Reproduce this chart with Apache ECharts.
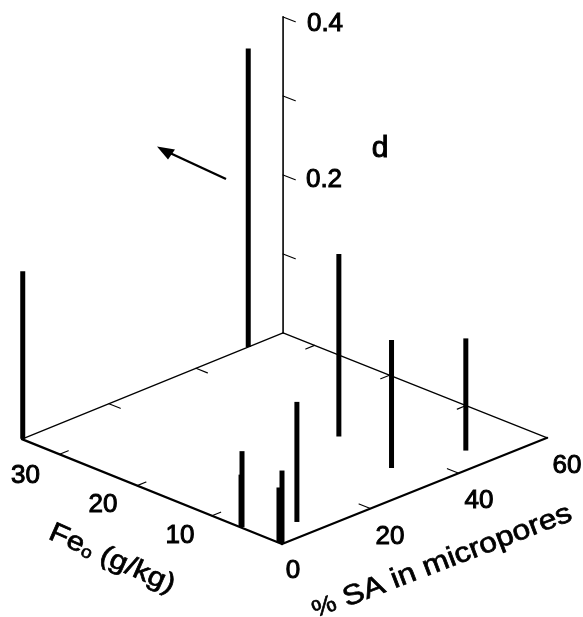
<!DOCTYPE html>
<html>
<head>
<meta charset="utf-8">
<style>html,body{margin:0;padding:0;background:#fff}#c{width:583px;height:617px}</style>
<script src="https://cdn.jsdelivr.net/npm/echarts@6/dist/echarts.min.js"></script>
</head>
<body>
<div id="c"></div>
<script>
// ---- data ----
var stemFe = [34.5, 34.5, 13.9, 5.3, 3.25, 2.65, 5.45, 5.55, 0, 0.4];
var stemSA = [0.2, 52, 36.8, 33.9, 47.2, 7.9, 0.25, 0.2, 0, 0];
var stemD  = [0.212, 0.378, 0.231, 0.162, 0.142, 0.152, 0.096, 0.066, 0.093, 0.07];
var feTicksFront = [9.3, 19.2, 29.5];
var feTicksBack = [10.6, 20.6, 30.4];
var saTicks = [20, 40];
var dTicks = [0.1, 0.2, 0.3, 0.4];
var feLabels = ['30', '20', '10'];
var saLabels = ['0', '20', '40', '60'];
var dLabels = ['0.4', '0.2'];
var feMax = 34.5, saMax = 60;

// ---- oblique projection of (Fe, SA, d) onto the plotting plane ----
var O = [282, 544];
var U = [-7.54, -3.04];
var V = [4.42, -1.77];
var W = [0.0, -790];
var SKEW = -0.00193;
function proj(fe, sa, d) {
  return [O[0] + fe * U[0] + sa * V[0] + d * W[0] + SKEW * fe * sa,
          O[1] + fe * U[1] + sa * V[1] + d * W[1]];
}
var FONT = '"Liberation Sans", Arial, sans-serif';

function seg(api, a, b, w) {
  var p = api.coord(a), q = api.coord(b);
  return {type: 'line', shape: {x1: p[0], y1: p[1], x2: q[0], y2: q[1]},
    style: {stroke: '#000', lineWidth: w, lineCap: 'round'}};
}

var stemData = stemFe.map(function (f, i) { return [f, stemSA[i], stemD[i]]; });

var edges = [
  [0, 0, 0, feMax, 0, 0, 2.2],
  [0, 0, 0, 0, saMax, 0, 2.2],
  [feMax, 0, 0, feMax, saMax, 0, 1.3],
  [0, saMax, 0, feMax, saMax, 0, 1.3],
  [feMax, saMax, 0, feMax, saMax, 0.4, 1.6]
];
feTicksFront.forEach(function (f) { edges.push([f, 0, 0, f, 2, 0, 1.1]); });
feTicksBack.forEach(function (f) { edges.push([f, saMax, 0, f, saMax - 2, 0, 1.1]); });
saTicks.forEach(function (s) {
  edges.push([0, s, 0, 1.5, s, 0, 1.1]);
  edges.push([feMax, s, 0, feMax - 1.5, s, 0, 1.1]);
});
dTicks.forEach(function (d) {
  edges.push([feMax, saMax, d, feMax - 1.6, saMax, d, 1.1]);
});

var texts = [
  {t: dLabels[0], x: 325, y: 23.5, s: 26},
  {t: dLabels[1], x: 324, y: 180, s: 26},
  {t: 'd', x: 380, y: 149, s: 30},
  {t: feLabels[0], x: 25.5, y: 476, s: 26},
  {t: feLabels[1], x: 103, y: 505, s: 26},
  {t: feLabels[2], x: 180, y: 536, s: 26},
  {t: saLabels[0], x: 293, y: 571, s: 26},
  {t: saLabels[1], x: 390, y: 537, s: 26},
  {t: saLabels[2], x: 479, y: 501, s: 26},
  {t: saLabels[3], x: 567, y: 466, s: 26}
];

var option = {
  animation: false,
  backgroundColor: '#fff',
  grid: {left: 0, right: 0, top: 0, bottom: 0},
  xAxis: {type: 'value', min: 0, max: 583, show: false},
  yAxis: {type: 'value', min: 0, max: 617, inverse: true, show: false},
  series: [
    {
      name: 'frame', type: 'custom', coordinateSystem: 'cartesian2d', silent: true,
      data: edges,
      renderItem: function (params, api) {
        var e = edges[params.dataIndex];
        return seg(api, proj(e[0], e[1], e[2]), proj(e[3], e[4], e[5]), e[6]);
      }
    },
    {
      name: 'd', type: 'custom', coordinateSystem: 'cartesian2d', silent: true,
      data: stemData,
      renderItem: function (params, api) {
        var fe = api.value(0), sa = api.value(1), d = api.value(2);
        var s = seg(api, proj(fe, sa, 0), proj(fe, sa, d), 5);
        s.style.lineCap = 'butt';
        return s;
      }
    },
    {
      name: 'arrow', type: 'custom', coordinateSystem: 'cartesian2d', silent: true,
      data: [[226, 179, 157, 146.5]],
      renderItem: function (params, api) {
        var a = api.coord([api.value(0), api.value(1)]), b = api.coord([api.value(2), api.value(3)]);
        return {type: 'group', children: [
          {type: 'line', shape: {x1: a[0], y1: a[1], x2: b[0] + 14, y2: b[1] + 7},
            style: {stroke: '#000', lineWidth: 2.4}},
          {type: 'polygon', shape: {points: [[b[0], b[1]], [b[0] + 11, b[1] + 13], [b[0] + 18, b[1] + 3]]},
            style: {fill: '#000'}}
        ]};
      }
    },
    {
      name: 'labels', type: 'custom', coordinateSystem: 'cartesian2d', silent: true,
      data: texts.map(function (t) { return [t.x, t.y]; }),
      renderItem: function (params, api) {
        var t = texts[params.dataIndex], p = api.coord([t.x, t.y]);
        return {type: 'text', x: p[0], y: p[1], style: {
          text: t.t, fontFamily: FONT, fontSize: t.s, fill: '#000', stroke: '#000', lineWidth: 1,
          align: 'center', verticalAlign: 'middle'}};
      }
    },
    {
      name: 'axis titles', type: 'custom', coordinateSystem: 'cartesian2d', silent: true,
      data: [[112, 559], [442, 562]],
      renderItem: function (params, api) {
        var p = api.coord([api.value(0), api.value(1)]);
        if (params.dataIndex === 0) {
          return {type: 'text', x: p[0], y: p[1], rotation: -24 * Math.PI / 180, scaleX: 1.15, style: {
            text: '{a|Fe}{b|o}{a| (g/kg)}', fontFamily: FONT, fontSize: 27, fill: '#000',
            align: 'center', verticalAlign: 'middle',
            rich: {
              a: {fontFamily: FONT, fontSize: 27, fill: '#000', stroke: '#000', lineWidth: 0.7},
              b: {fontFamily: FONT, fontSize: 17, fill: '#000', verticalAlign: 'bottom', stroke: '#000', lineWidth: 0.6}
            }}};
        }
        return {type: 'text', x: p[0], y: p[1], rotation: 21 * Math.PI / 180, scaleX: 1.14, style: {
          text: '{p|%} {a|SA in micropores}', fontFamily: FONT, fontSize: 28, fill: '#000',
          align: 'center', verticalAlign: 'middle',
          rich: {
            a: {fontFamily: FONT, fontSize: 28, fill: '#000', stroke: '#000', lineWidth: 0.7},
            p: {fontFamily: FONT, fontSize: 24, fill: '#000', stroke: '#000', lineWidth: 0.6}
          }}};
      }
    }
  ]
};
var chart = echarts.init(document.getElementById('c'), null, {renderer: 'canvas'});
chart.setOption(option);
</script>
</body>
</html>
